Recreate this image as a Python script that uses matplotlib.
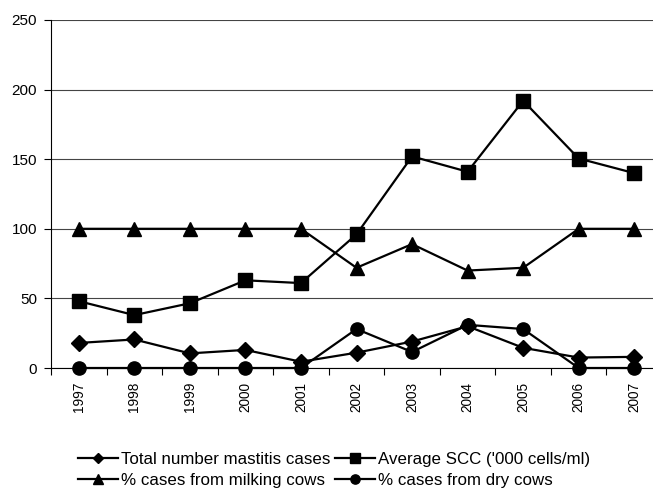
import matplotlib.pyplot as plt
import numpy as np

plt.rcParams['font.family'] = ['Liberation Sans', 'DejaVu Sans']

years = ['1997', '1998', '1999', '2000', '2001', '2002', '2003', '2004', '2005', '2006', '2007']
total_cases = [18, 20.5, 10.5, 13, 4.5, 11, 19, 30, 14.5, 7.5, 8]
avg_scc = [48, 38, 46.5, 63, 61, 96, 152, 141, 192, 150.5, 140]
pct_milking = [100, 100, 100, 100, 100, 72, 89, 70, 72, 100, 100]
pct_dry = [0, 0, 0, 0, 0, 28, 11.5, 31, 28, 0, 0]

x = np.arange(len(years))

fig = plt.figure(figsize=(6.53, 4.97), dpi=100)
ax = fig.add_axes([51 / 653, 129 / 497, 611 / 653, 348 / 497])

style = dict(color='black', linewidth=1.6, clip_on=False)
l1, = ax.plot(x, total_cases, marker='D', markersize=8, label='Total number mastitis cases', **style)
l2, = ax.plot(x, avg_scc, marker='s', markersize=10, label="Average SCC ('000 cells/ml)", **style)
l3, = ax.plot(x, pct_milking, marker='^', markersize=10, label='% cases from milking cows', **style)
l4, = ax.plot(x, pct_dry, marker='o', markersize=9.5, label='% cases from dry cows', **style)

ax.set_xlim(-0.5, len(years) - 0.5)
ax.set_ylim(0, 250)
ax.set_yticks(np.arange(0, 251, 50))
ax.yaxis.grid(True, color='#444444', linewidth=0.8)
ax.set_axisbelow(True)

ax.set_xticks(x)
ax.set_xticklabels(years, rotation=90, fontsize=9.8)
ax.set_xticks(np.arange(-0.5, len(years)), minor=True)
ax.tick_params(axis='x', which='major', length=0, pad=10)
ax.tick_params(axis='x', which='minor', length=5, direction='out', width=0.8)
ax.tick_params(axis='y', labelsize=11, length=5, width=0.8, pad=5)

for side in ['top', 'right']:
    ax.spines[side].set_visible(False)
ax.spines['left'].set_linewidth(0.8)
ax.spines['bottom'].set_linewidth(0.8)

# legend fills column-wise, so order handles to read row by row
handles = [l1, l3, l2, l4]
fig.legend(handles=handles, labels=[h.get_label() for h in handles],
           loc='center', bbox_to_anchor=(334 / 653, 1 - 470 / 497), ncol=2, frameon=False,
           fontsize=12.2, markerscale=0.7, handlelength=2.35, handletextpad=0.15,
           columnspacing=0.3, labelspacing=0.4, borderaxespad=0)

fig.savefig('out.png', dpi=100)
